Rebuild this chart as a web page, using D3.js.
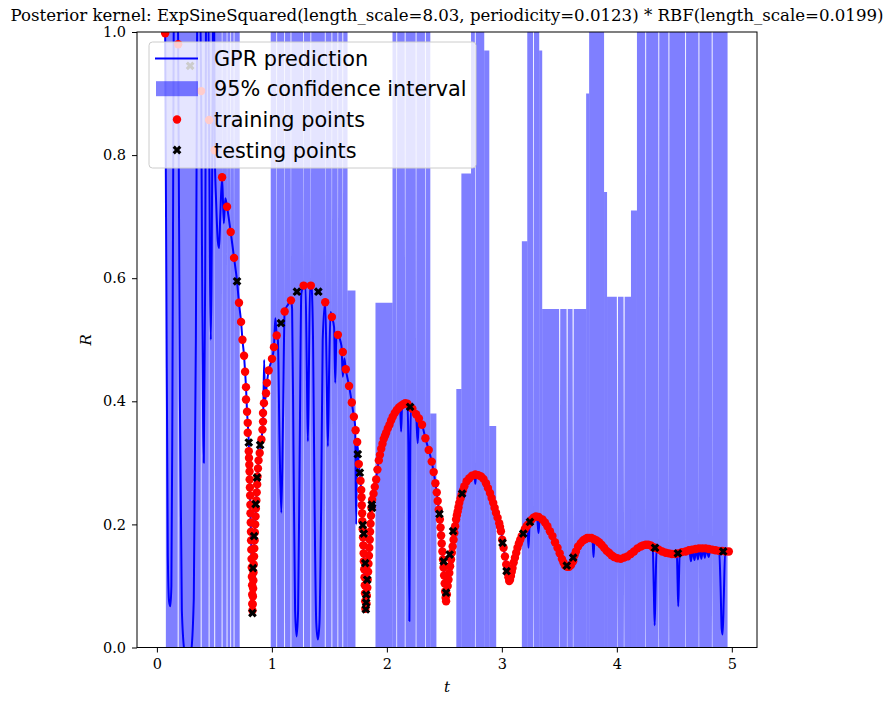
<!DOCTYPE html>
<html>
<head>
<meta charset="utf-8">
<script src="https://cdn.jsdelivr.net/npm/d3@7"></script>
<style>
  body { margin: 0; background: #fff; }
  svg { display: block; }
</style>
</head>
<body>
<div id="chart"></div>
<script>
// readings: [t, R]
var trainPoints = [
  [0.072,0.998],[0.185,0.980],[0.385,0.904],[0.454,0.857],[0.503,0.808],[0.567,0.764],[0.610,0.716],[0.642,0.675],[0.671,0.633],[0.714,0.560],
  [0.732,0.529],[0.744,0.500],[0.758,0.474],[0.767,0.448],[0.775,0.423],[0.775,0.403],[0.784,0.383],[0.790,0.365],[0.790,0.349],[0.799,0.319],
  [0.801,0.308],[0.804,0.297],[0.806,0.286],[0.807,0.273],[0.809,0.260],[0.811,0.247],[0.813,0.232],[0.814,0.218],[0.816,0.203],[0.818,0.188],
  [0.819,0.174],[0.821,0.159],[0.823,0.144],[0.825,0.130],[0.826,0.115],[0.828,0.101],[0.829,0.086],[0.830,0.071],[0.831,0.060],
  [0.833,0.070],[0.835,0.083],[0.837,0.096],[0.839,0.109],[0.840,0.122],[0.842,0.135],[0.845,0.148],[0.847,0.161],[0.850,0.174],[0.852,0.187],
  [0.855,0.200],[0.858,0.213],[0.861,0.226],[0.865,0.239],[0.868,0.252],[0.872,0.265],[0.875,0.278],[0.879,0.291],[0.884,0.304],[0.894,0.316],
  [0.909,0.338],[0.918,0.354],[0.923,0.367],[0.923,0.381],[0.931,0.397],[0.949,0.413],[0.957,0.430],[0.972,0.450],[1.001,0.469],[1.018,0.488],
  [1.042,0.507],[1.111,0.546],[1.166,0.564],[1.276,0.588],[1.339,0.588],[1.464,0.561],[1.522,0.537],[1.574,0.508],[1.617,0.480],[1.643,0.452],
  [1.671,0.425],[1.695,0.398],[1.713,0.375],[1.728,0.353],[1.742,0.334],[1.756,0.298],[1.771,0.271],
  [1.777,0.256],[1.780,0.244],[1.782,0.231],[1.785,0.218],[1.787,0.205],[1.790,0.192],[1.793,0.179],[1.795,0.166],[1.798,0.153],[1.800,0.140],
  [1.803,0.127],[1.806,0.114],[1.808,0.101],[1.810,0.088],[1.812,0.075],[1.813,0.063],
  [1.823,0.071],[1.826,0.084],[1.830,0.097],[1.833,0.110],[1.837,0.123],[1.840,0.136],[1.844,0.149],[1.847,0.162],[1.851,0.175],[1.854,0.188],
  [1.858,0.201],[1.862,0.214],[1.866,0.227],[1.872,0.240],[1.884,0.250],[1.895,0.261],[1.907,0.273],[1.918,0.289],[1.930,0.304],[1.940,0.313],
  [1.951,0.323],[1.962,0.331],[1.973,0.339],[1.984,0.344],[1.994,0.349],[2.008,0.356],[2.023,0.362],[2.037,0.369],[2.051,0.375],[2.069,0.381],
  [2.086,0.386],[2.105,0.390],[2.124,0.393],[2.142,0.395],[2.159,0.397],[2.179,0.396],[2.222,0.388],[2.254,0.379],[2.279,0.372],[2.306,0.362],
  [2.335,0.340],[2.364,0.321],[2.390,0.302],[2.407,0.285],[2.422,0.267],[2.434,0.252],[2.442,0.238],[2.451,0.224],
  [2.461,0.208],[2.467,0.195],[2.472,0.182],[2.477,0.169],[2.483,0.156],[2.488,0.143],[2.493,0.130],[2.498,0.117],[2.503,0.104],[2.507,0.091],
  [2.511,0.081],[2.515,0.075],
  [2.522,0.086],[2.529,0.100],[2.536,0.110],[2.543,0.121],[2.550,0.132],[2.558,0.143],[2.565,0.154],[2.572,0.164],[2.580,0.175],[2.587,0.186],
  [2.594,0.197],[2.602,0.208],[2.609,0.215],[2.616,0.221],[2.623,0.228],[2.630,0.235],[2.641,0.242],[2.650,0.248],[2.662,0.255],[2.674,0.262],
  [2.694,0.270],[2.717,0.275],[2.740,0.279],[2.769,0.281],[2.795,0.280],[2.819,0.278],[2.840,0.274],[2.862,0.267],[2.879,0.259],[2.897,0.251],
  [2.911,0.243],[2.925,0.235],[2.937,0.227],[2.949,0.219],[2.963,0.211],[2.977,0.202],[2.984,0.196],[2.992,0.189],[3.003,0.175],[3.015,0.162],
  [3.027,0.148],[3.038,0.135],[3.050,0.121],[3.057,0.114],[3.064,0.108],[3.071,0.110],[3.079,0.116],[3.086,0.123],[3.093,0.129],[3.103,0.138],
  [3.114,0.146],[3.125,0.154],[3.136,0.162],[3.148,0.169],[3.160,0.175],[3.173,0.181],[3.200,0.192],[3.215,0.197],[3.229,0.200],[3.255,0.207],
  [3.275,0.211],[3.296,0.213],[3.320,0.212],[3.353,0.208],[3.375,0.203],[3.396,0.197],[3.418,0.189],[3.440,0.181],[3.462,0.171],[3.484,0.162],
  [3.503,0.153],[3.522,0.144],[3.536,0.138],[3.550,0.133],[3.568,0.131],[3.585,0.131],[3.602,0.134],[3.620,0.140],[3.632,0.150],[3.644,0.156],
  [3.663,0.164],[3.687,0.170],[3.707,0.174],[3.724,0.176],[3.741,0.178],[3.759,0.178],[3.780,0.178],[3.802,0.176],[3.824,0.174],[3.845,0.171],
  [3.867,0.167],[3.889,0.162],[3.911,0.157],[3.932,0.154],[3.954,0.150],[3.976,0.147],[4.005,0.145],[4.034,0.144],[4.063,0.146],[4.092,0.148],
  [4.121,0.152],[4.149,0.156],[4.179,0.161],[4.208,0.164],[4.229,0.166],[4.251,0.167],[4.273,0.167],[4.294,0.166],[4.314,0.163],[4.334,0.162],
  [4.365,0.159],[4.395,0.156],[4.425,0.154],[4.453,0.153],[4.479,0.152],[4.505,0.152],[4.531,0.153],[4.564,0.155],[4.598,0.156],[4.627,0.158],
  [4.655,0.159],[4.685,0.160],[4.714,0.161],[4.743,0.161],[4.772,0.161],[4.800,0.160],[4.829,0.159],[4.858,0.158],[4.887,0.157],[4.916,0.157],
  [4.945,0.156],[4.974,0.156]
];

var testPoints = [
  [0.289,0.945],[0.697,0.595],[0.799,0.333],[0.831,0.056],[0.836,0.129],[0.845,0.181],[0.859,0.233],[0.871,0.276],[0.898,0.329],[1.079,0.527],
  [1.218,0.578],[1.404,0.578],[1.747,0.314],[1.765,0.284],[1.791,0.199],[1.799,0.185],[1.812,0.137],[1.829,0.110],[1.820,0.086],[1.820,0.073],
  [1.817,0.062],[1.869,0.232],[1.872,0.227],[2.202,0.391],[2.457,0.217],[2.494,0.140],[2.515,0.089],[2.546,0.151],[2.576,0.189],[2.654,0.250],
  [3.006,0.170],[3.041,0.124],[3.186,0.185],[3.244,0.204],[3.565,0.133],[3.620,0.146],[4.332,0.162],[4.531,0.153],[4.925,0.156]
];

var predLine = [
  [0.072,0.998],[0.082,0.60],[0.095,0.15],[0.106,0.075],[0.117,0.067],[0.126,0.10],[0.135,0.40],[0.148,1.10],[0.161,1.40],[0.174,1.10],
  [0.185,0.980],[0.200,0.40],[0.217,0.06],[0.243,-0.01],[0.269,-0.02],[0.295,-0.01],[0.321,0.08],[0.339,0.50],[0.352,1.10],[0.365,1.40],
  [0.376,1.10],[0.385,0.904],[0.395,0.55],[0.408,0.300],[0.420,0.60],[0.430,1.20],[0.438,1.40],[0.447,1.10],[0.454,0.857],[0.462,0.60],
  [0.469,0.500],[0.477,0.65],[0.490,1.05],[0.496,1.10],[0.503,0.808],[0.516,0.72],[0.530,0.66],[0.541,0.649],[0.551,0.70],[0.567,0.764],
  [0.582,0.689],[0.595,0.73],[0.610,0.716],[0.642,0.675],[0.671,0.633],[0.697,0.595],[0.714,0.560],[0.732,0.529],[0.744,0.500],[0.758,0.474],
  [0.767,0.448],[0.775,0.423],[0.784,0.383],[0.790,0.365],[0.799,0.333],[0.807,0.273],[0.816,0.203],[0.825,0.130],[0.831,0.058],[0.836,0.110],
  [0.845,0.160],[0.852,0.187],[0.861,0.226],[0.872,0.265],[0.884,0.304],[0.894,0.316],[0.909,0.338],[0.918,0.354],[0.925,0.380],[0.933,0.467],
  [0.940,0.400],[0.949,0.413],[0.957,0.430],[0.972,0.450],[1.001,0.469],[1.018,0.488],[1.030,0.535],[1.042,0.507],[1.052,0.50],[1.067,0.33],
  [1.082,0.219],[1.096,0.36],[1.111,0.546],[1.140,0.557],[1.166,0.564],[1.176,0.55],[1.188,0.32],[1.202,0.06],[1.215,0.018],[1.228,0.06],
  [1.242,0.32],[1.256,0.575],[1.276,0.588],[1.292,0.59],[1.304,0.45],[1.313,0.335],[1.322,0.45],[1.332,0.589],[1.345,0.585],[1.358,0.50],
  [1.372,0.22],[1.386,0.04],[1.400,0.013],[1.414,0.04],[1.428,0.22],[1.442,0.50],[1.464,0.561],[1.476,0.45],[1.487,0.327],[1.498,0.45],
  [1.510,0.545],[1.522,0.537],[1.541,0.52],[1.551,0.430],[1.562,0.51],[1.574,0.508],[1.605,0.490],[1.617,0.440],[1.630,0.470],[1.643,0.452],
  [1.671,0.425],[1.695,0.398],[1.713,0.375],[1.724,0.36],[1.733,0.200],[1.742,0.334],[1.756,0.298],[1.771,0.271],[1.785,0.218],[1.798,0.153],
  [1.813,0.063],[1.818,0.060],[1.826,0.084],[1.840,0.136],[1.858,0.201],[1.872,0.240],[1.895,0.261],[1.930,0.304],[1.962,0.331],[1.994,0.349],
  [2.037,0.369],[2.086,0.386],[2.115,0.390],[2.124,0.351],[2.133,0.394],[2.159,0.397],[2.179,0.396],[2.187,0.33],[2.196,0.043],[2.204,0.33],
  [2.210,0.391],[2.222,0.388],[2.254,0.379],[2.268,0.332],[2.279,0.372],[2.306,0.362],[2.335,0.340],[2.364,0.321],[2.390,0.302],[2.422,0.267],
  [2.451,0.224],[2.477,0.169],[2.503,0.104],[2.515,0.075],[2.529,0.100],[2.558,0.143],[2.587,0.186],[2.616,0.221],[2.650,0.248],[2.694,0.270],
  [2.740,0.279],[2.762,0.280],[2.769,0.266],[2.776,0.281],[2.795,0.280],[2.840,0.274],[2.897,0.251],[2.949,0.219],[2.992,0.189],[3.027,0.148],
  [3.064,0.108],[3.093,0.129],[3.125,0.154],[3.160,0.175],[3.200,0.192],[3.222,0.198],[3.232,0.162],[3.242,0.202],[3.275,0.211],[3.305,0.213],
  [3.319,0.186],[3.330,0.212],[3.353,0.208],[3.396,0.197],[3.440,0.181],[3.484,0.162],[3.522,0.144],[3.568,0.131],[3.602,0.134],[3.644,0.156],
  [3.687,0.170],[3.724,0.176],[3.759,0.178],[3.788,0.178],[3.797,0.147],[3.806,0.176],[3.845,0.171],[3.889,0.162],[3.932,0.154],[3.976,0.147],
  [4.034,0.144],[4.092,0.148],[4.149,0.156],[4.208,0.164],[4.251,0.167],[4.294,0.166],[4.312,0.163],[4.321,0.10],[4.329,0.036],[4.337,0.10],
  [4.346,0.162],[4.395,0.156],[4.453,0.153],[4.505,0.152],[4.522,0.153],[4.528,0.11],[4.534,0.067],[4.540,0.11],[4.547,0.154],[4.598,0.156],
  [4.630,0.158],[4.645,0.140],[4.658,0.159],[4.675,0.142],[4.690,0.160],[4.705,0.143],[4.720,0.161],[4.735,0.144],[4.750,0.161],[4.765,0.146],
  [4.780,0.161],[4.798,0.147],[4.815,0.160],[4.858,0.158],[4.890,0.157],[4.902,0.10],[4.912,0.030],[4.920,0.021],[4.930,0.08],[4.942,0.156],
  [4.974,0.156]
];

// confidence band: [t start, t end, lower, upper]; outside these it is too thin to see
var bandSpans = [
  [0.078,0.720,-0.2,1.2],[0.990,1.658,-0.2,1.2],[1.658,1.727,-0.2,0.58],[1.901,2.049,-0.2,0.56],[2.049,2.378,-0.2,1.2],
  [2.378,2.431,-0.2,0.38],[2.604,2.648,-0.2,0.42],[2.648,2.732,-0.2,0.77],[2.732,2.847,-0.2,1.2],[2.847,2.891,-0.2,0.97],
  [2.891,2.951,-0.2,0.36],[3.174,3.221,-0.2,0.66],[3.221,3.325,-0.2,1.2],[3.325,3.351,-0.2,0.97],[3.351,3.733,-0.2,0.55],
  [3.733,3.759,-0.2,0.9],[3.759,3.889,-0.2,1.2],[3.889,3.915,-0.2,0.74],[3.915,4.123,-0.2,0.57],[4.123,4.175,-0.2,0.71],
  [4.175,4.963,-0.2,1.2]
];
// places where the band pinches down to the curve (the thin white streaks)
var bandPinches = [
  [0.185,0.98],[0.385,0.904],[0.454,0.857],[0.503,0.808],[0.567,0.764],[0.610,0.716],[0.642,0.675],[0.671,0.633],
  [1.042,0.507],[1.111,0.546],[1.166,0.564],[1.276,0.588],[1.339,0.588],[1.464,0.561],[1.522,0.537],[1.574,0.508],[1.617,0.480],
  [2.086,0.386],[2.159,0.397],[2.254,0.379],[2.335,0.340],[2.769,0.281],[3.275,0.211],[3.503,0.153],[3.568,0.131],[3.620,0.140],
  [4.005,0.145],[4.063,0.146],[4.251,0.167],[4.365,0.159],[4.453,0.153],[4.598,0.156],[4.714,0.161],[4.829,0.159]
];

var xTicks = [0, 1, 2, 3, 4, 5];
var yTicks = [0, 0.2, 0.4, 0.6, 0.8, 1.0];
var legendLabels = ["GPR prediction", "95% confidence interval", "training points", "testing points"];
var titleText = "Posterior kernel: ExpSineSquared(length_scale=8.03, periodicity=0.0123) * RBF(length_scale=0.0199)";

var W = 894, H = 706;
var L = 137, R = 757, T = 32, B = 647.5;

var svg = d3.select('#chart').append('svg')
  .attr('width', W)
  .attr('height', H);

var x = d3.scaleLinear().domain([-0.173, 5.219]).range([L, R]);
var y = d3.scaleLinear().domain([0, 1]).range([B, T]);

svg.append('clipPath').attr('id', 'plotclip')
  .append('rect').attr('x', L).attr('y', T).attr('width', R - L).attr('height', B - T);

var plot = svg.append('g').attr('clip-path', 'url(#plotclip)');

// band polygons, one per span, with pinches folded in
var dt = 0.005;
var area = d3.area()
  .x(function (d) { return x(d[0]); })
  .y0(function (d) { return y(d[1]); })
  .y1(function (d) { return y(d[2]); });

bandSpans.forEach(function (s) {
  var pts = [[s[0], s[2], s[3]]];
  bandPinches.forEach(function (p) {
    if (p[0] > s[0] + dt && p[0] < s[1] - dt) {
      pts.push([p[0] - dt, s[2], s[3]]);
      pts.push([p[0], p[1], p[1]]);
      pts.push([p[0] + dt, s[2], s[3]]);
    }
  });
  pts.push([s[1], s[2], s[3]]);
  plot.append('path')
    .attr('d', area(pts))
    .attr('fill', 'blue')
    .attr('fill-opacity', 0.5);
});

var line = d3.line()
  .x(function (d) { return x(d[0]); })
  .y(function (d) { return y(d[1]); })
  .curve(d3.curveMonotoneX);

plot.append('path')
  .attr('d', line(predLine))
  .attr('fill', 'none')
  .attr('stroke', 'blue')
  .attr('stroke-width', 2)
  .attr('stroke-linejoin', 'round');

var dotR = 4.2;

plot.selectAll('circle.train')
  .data(trainPoints)
  .enter()
  .append('circle')
  .attr('class', 'train')
  .attr('cx', function (d) { return x(d[0]); })
  .attr('cy', function (d) { return y(d[1]); })
  .attr('r', dotR)
  .attr('fill', 'red');

var xMark = d3.symbol().type(d3.symbolCross).size(48);

plot.selectAll('path.test')
  .data(testPoints)
  .enter()
  .append('path')
  .attr('class', 'test')
  .attr('d', xMark)
  .attr('transform', function (d) { return 'translate(' + x(d[0]) + ',' + y(d[1]) + ') rotate(45)'; })
  .attr('fill', 'black');

// axes
var serif = '"DejaVu Serif", serif';

var xAxis = svg.append('g')
  .attr('transform', 'translate(0,' + B + ')')
  .call(d3.axisBottom(x).tickValues(xTicks).tickSize(5).tickPadding(6).tickFormat(d3.format('d')));
var yAxis = svg.append('g')
  .attr('transform', 'translate(' + L + ',0)')
  .call(d3.axisLeft(y).tickValues(yTicks).tickSize(5).tickPadding(6).tickFormat(d3.format('.1f')));

[xAxis, yAxis].forEach(function (g) {
  g.select('.domain').remove();
  g.selectAll('text').attr('font-family', serif).attr('font-size', 14.5).attr('fill', '#000');
  g.selectAll('line').attr('stroke', '#000').attr('stroke-width', 1);
});

svg.append('rect')
  .attr('x', L).attr('y', T)
  .attr('width', R - L).attr('height', B - T)
  .attr('fill', 'none')
  .attr('stroke', '#000')
  .attr('stroke-width', 1);

svg.append('text')
  .attr('x', (L + R) / 2).attr('y', 692)
  .attr('text-anchor', 'middle')
  .attr('font-family', serif).attr('font-style', 'italic').attr('font-size', 15)
  .text('t');

svg.append('text')
  .attr('transform', 'translate(91,' + (T + B) / 2 + ') rotate(-90)')
  .attr('text-anchor', 'middle')
  .attr('font-family', serif).attr('font-style', 'italic').attr('font-size', 15)
  .text('R');

svg.append('text')
  .attr('x', (L + R) / 2).attr('y', 21)
  .attr('text-anchor', 'middle')
  .attr('font-family', serif).attr('font-size', 16.6)
  .text(titleText);

// legend
var lg = svg.append('g');
lg.append('rect')
  .attr('x', 149).attr('y', 42)
  .attr('width', 327).attr('height', 126)
  .attr('rx', 3.5)
  .attr('fill', 'white').attr('fill-opacity', 0.8)
  .attr('stroke', '#cccccc').attr('stroke-width', 1);

var rowY = [58.5, 88.7, 119.5, 150];
lg.append('line')
  .attr('x1', 155).attr('x2', 198)
  .attr('y1', rowY[0]).attr('y2', rowY[0])
  .attr('stroke', 'blue').attr('stroke-width', 2);
lg.append('rect')
  .attr('x', 156).attr('y', rowY[1] - 7.5)
  .attr('width', 42).attr('height', 15)
  .attr('fill', 'blue').attr('fill-opacity', 0.5);
lg.append('circle')
  .attr('cx', 177).attr('cy', rowY[2]).attr('r', dotR)
  .attr('fill', 'red');
lg.append('path')
  .attr('d', xMark)
  .attr('transform', 'translate(177,' + rowY[3] + ') rotate(45)')
  .attr('fill', 'black');

lg.selectAll('text.lab')
  .data(legendLabels)
  .enter()
  .append('text')
  .attr('class', 'lab')
  .attr('x', 214)
  .attr('y', function (d, i) { return rowY[i] + 7.5; })
  .attr('font-family', '"DejaVu Sans", sans-serif')
  .attr('font-size', 20.8)
  .attr('fill', '#000')
  .text(function (d) { return d; });
</script>
</body>
</html>
